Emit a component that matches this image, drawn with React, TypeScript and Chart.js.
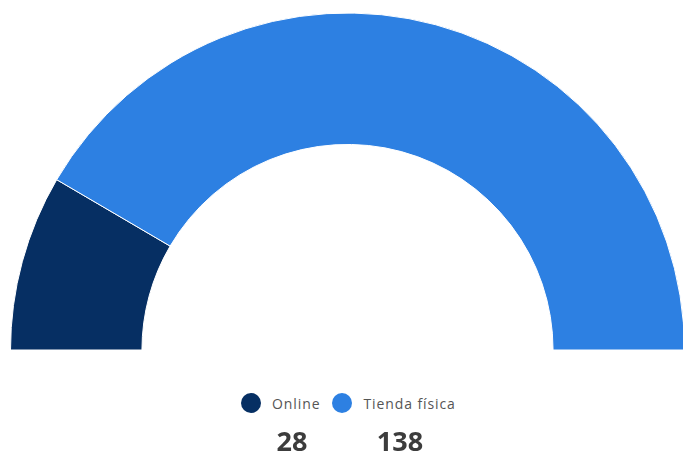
import React, { useEffect, useRef } from "react";
import { Chart, registerables } from "chart.js";

Chart.register(...registerables);

const categories = ["Online", "Tienda física"];
const values = [28, 138];
const colors = ["#062f63", "#2d80e2"];

export default function App() {
  const ref = useRef<HTMLCanvasElement | null>(null);
  useEffect(() => {
    if (!ref.current) return;
    const chart = new Chart(ref.current, {
      type: "doughnut",
      data: {
        labels: categories,
        datasets: [
          {
            data: values,
            backgroundColor: colors,
            borderColor: "#ffffff",
            borderWidth: 1,
            hoverOffset: 0,
          },
        ],
      },
      options: {
        animation: false,
        responsive: true,
        maintainAspectRatio: false,
        rotation: -90,
        circumference: 180,
        cutout: "61%",
        layout: { padding: 0 },
        plugins: { legend: { display: false }, tooltip: { enabled: false } },
      },
    });
    return () => chart.destroy();
  }, []);

  const font = "'Open Sans', 'Noto Sans', sans-serif";
  return (
    <div style={{ position: "fixed", left: 0, top: 0, width: 683, height: 454, background: "#fff", fontFamily: font }}>
      <div style={{ position: "absolute", left: 10, top: 12, width: 675, height: 339 }}>
        <canvas ref={ref} />
      </div>
      <div style={{ position: "absolute", left: 241, top: 392, height: 22, display: "flex", alignItems: "center", whiteSpace: "nowrap" }}>
        {categories.map((c, i) => (
          <div key={c} style={{ display: "flex", alignItems: "center", marginRight: 12 }}>
            <span style={{ width: 20, height: 20, borderRadius: "50%", background: colors[i], display: "inline-block" }} />
            <span style={{ marginLeft: 11, fontSize: 14, letterSpacing: 0.9, color: "#555" }}>{c}</span>
          </div>
        ))}
      </div>
      {values.map((v, i) => (
        <div key={i} style={{ position: "absolute", left: [292, 400][i] - 40, width: 80, top: 422, textAlign: "center", fontSize: 27, fontWeight: 700, color: "#3c3c3c" }}>
          {v}
        </div>
      ))}
    </div>
  );
}
